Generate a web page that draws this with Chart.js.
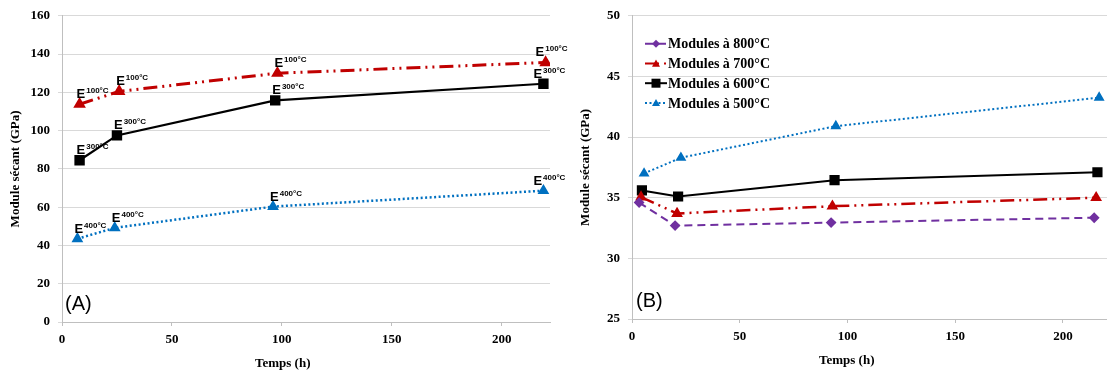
<!DOCTYPE html>
<html lang="fr">
<head>
<meta charset="UTF-8">
<title>Module sécant en fonction du temps</title>
<script src="https://cdn.jsdelivr.net/npm/chart.js"></script>
<style>
  body { margin: 0; background: #fff; width: 1107px; height: 374px; overflow: hidden; position: relative; }
  .panel { position: absolute; top: 0; height: 374px; }
  #panelA { left: 0; width: 575px; }
  #panelB { left: 565px; width: 551px; }
  .tag { position: absolute; font-family: "Liberation Sans", sans-serif; font-size: 20px; color: #000; }
  .xtitle { position: absolute; font-family: "Liberation Serif", serif; font-weight: bold; font-size: 13px; color: #000; }
</style>
</head>
<body>
<div id="panelB" class="panel"><canvas id="chartB"></canvas></div>
<div id="panelA" class="panel"><canvas id="chartA"></canvas></div>
<div class="tag" style="left:65px; top:292px;">(A)</div>
<div class="tag" style="left:636px; top:289px;">(B)</div>
<div class="xtitle" style="left:255px; top:355px;">Temps (h)</div>
<div class="xtitle" style="left:819px; top:352px;">Temps (h)</div>
<script>
// ---- data, panel A (E at 100 / 300 / 400 °C) ----
const tempsA100 = [8, 26, 98, 220];
const moduleA100 = [113.8, 120.5, 130, 135.6];
const tempsA300 = [8, 25, 97, 219];
const moduleA300 = [84.5, 97.5, 115.8, 124.5];
const tempsA400 = [7, 24, 96, 219];
const moduleA400 = [43.5, 49.2, 60.3, 68.6];
const sufA = ['100°C', '300°C', '400°C'];

// ---- data, panel B ----
const tempsB800 = [3.3, 20, 92.4, 214.5];
const moduleB800 = [34.6, 32.7, 32.95, 33.35];
const tempsB700 = [4.2, 20.9, 93, 215.4];
const moduleB700 = [35.05, 33.7, 34.3, 35.0];
const tempsB600 = [4.6, 21.4, 94, 216];
const moduleB600 = [35.6, 35.1, 36.45, 37.1];
const tempsB500 = [5.6, 22.7, 94.6, 216.8];
const moduleB500 = [37.0, 38.3, 40.9, 43.25];
const labelsB = ['Modules à 800°C', 'Modules à 700°C', 'Modules à 600°C', 'Modules à 500°C'];

const RED = '#c00000', BLUE = '#0070c0', PURPLE = '#7030a0', BLACK = '#000000';
const tickFont = { family: 'Liberation Serif', size: 13, weight: 'bold' };
const pairs = (xs, ys) => xs.map((x, i) => ({ x, y: ys[i] }));

function xScale(max, h) {
  return {
    type: 'linear', min: 0, max,
    ticks: { stepSize: 50, includeBounds: false, font: tickFont, color: '#000', padding: 6, maxRotation: 0 },
    grid: { drawOnChartArea: false, tickLength: 4, color: '#bfbfbf' },
    border: { color: '#bfbfbf' },
    afterFit: s => { s.height = h; }
  };
}
function yScale(min, max, step, w, tpad) {
  return {
    min, max,
    ticks: { stepSize: step, font: tickFont, color: '#000', padding: 8 },
    grid: { color: '#d9d9d9', tickLength: 4 },
    border: { color: '#bfbfbf' },
    title: { display: true, text: 'Module sécant (GPa)', font: tickFont, color: '#000', padding: { top: tpad, bottom: 0 } },
    afterFit: s => { s.width = w; }
  };
}

// E^xxx°C labels next to each point of panel A
const eLabels = {
  id: 'eLabels',
  afterDatasetsDraw(chart) {
    const ctx = chart.ctx;
    ctx.save();
    ctx.fillStyle = '#000';
    ctx.textBaseline = 'alphabetic';
    chart.data.datasets.forEach((ds, i) => {
      chart.getDatasetMeta(i).data.forEach((pt, j, arr) => {
        const x = pt.x + (j === arr.length - 1 ? -10 : -3);
        const y = pt.y - 6;
        ctx.font = 'bold 13px "Liberation Sans"';
        ctx.fillText('E', x, y);
        const w = ctx.measureText('E').width;
        ctx.font = 'bold 8px "Liberation Sans"';
        ctx.fillText(sufA[i], x + w + 1, y - 5);
      });
    });
    ctx.restore();
  }
};

function marker(ctx, style, x, y, r) {
  ctx.beginPath();
  if (style === 'triangle') {
    ctx.moveTo(x, y - r); ctx.lineTo(x + r, y + r * 0.8); ctx.lineTo(x - r, y + r * 0.8);
  } else if (style === 'rect') {
    ctx.rect(x - r, y - r, 2 * r, 2 * r);
  } else {
    ctx.moveTo(x, y - r); ctx.lineTo(x + r, y); ctx.lineTo(x, y + r); ctx.lineTo(x - r, y);
  }
  ctx.closePath();
  ctx.fill();
}

// legend drawn inside the plot of panel B
const innerLegend = {
  id: 'innerLegend',
  afterDraw(chart) {
    const ctx = chart.ctx;
    const a = chart.chartArea;
    const x0 = a.left + 13, y0 = a.top + 28;
    ctx.save();
    chart.data.datasets.forEach((ds, i) => {
      const y = y0 + i * 19.7;
      ctx.strokeStyle = ds.borderColor;
      ctx.lineWidth = 2;
      ctx.setLineDash(ds.borderDash || []);
      ctx.beginPath(); ctx.moveTo(x0, y); ctx.lineTo(x0 + 22, y); ctx.stroke();
      ctx.setLineDash([]);
      ctx.fillStyle = ds.borderColor;
      marker(ctx, ds.pointStyle, x0 + 11, y, ds.pointStyle === 'rect' ? 4.5 : 4);
      ctx.fillStyle = '#000';
      ctx.font = 'bold 14px "Liberation Serif"';
      ctx.textBaseline = 'middle';
      ctx.fillText(ds.label, x0 + 23, y + 1);
    });
    ctx.restore();
  }
};

new Chart(document.getElementById('chartA'), {
  type: 'scatter',
  data: {
    datasets: [
      { label: 'E 100°C', data: pairs(tempsA100, moduleA100), showLine: true, borderColor: RED, backgroundColor: RED,
        borderWidth: 3, borderDash: [14, 5, 2, 5, 2, 5], pointStyle: 'triangle', pointRadius: 4.3 },
      { label: 'E 300°C', data: pairs(tempsA300, moduleA300), showLine: true, borderColor: BLACK, backgroundColor: BLACK,
        borderWidth: 2.2, pointStyle: 'rect', pointRadius: 5.8 },
      { label: 'E 400°C', data: pairs(tempsA400, moduleA400), showLine: true, borderColor: BLUE, backgroundColor: BLUE,
        borderWidth: 2.5, borderDash: [2, 2.5], pointStyle: 'triangle', pointRadius: 4.3 }
    ]
  },
  options: {
    responsive: true, maintainAspectRatio: false, animation: false,
    layout: { padding: { top: 14, right: 25, left: 0, bottom: 0 } },
    plugins: { legend: { display: false }, tooltip: { enabled: false } },
    scales: { x: xScale(222, 52), y: yScale(0, 160, 20, 62, 8) }
  },
  plugins: [eLabels]
});

new Chart(document.getElementById('chartB'), {
  type: 'scatter',
  data: {
    datasets: [
      { label: labelsB[0], data: pairs(tempsB800, moduleB800), showLine: true, borderColor: PURPLE, backgroundColor: PURPLE,
        borderWidth: 2, borderDash: [8, 5], pointStyle: 'rectRot', pointRadius: 4 },
      { label: labelsB[1], data: pairs(tempsB700, moduleB700), showLine: true, borderColor: RED, backgroundColor: RED,
        borderWidth: 2.5, borderDash: [14, 5, 2, 5, 2, 5], pointStyle: 'triangle', pointRadius: 4.3 },
      { label: labelsB[2], data: pairs(tempsB600, moduleB600), showLine: true, borderColor: BLACK, backgroundColor: BLACK,
        borderWidth: 2, pointStyle: 'rect', pointRadius: 5.8 },
      { label: labelsB[3], data: pairs(tempsB500, moduleB500), showLine: true, borderColor: BLUE, backgroundColor: BLUE,
        borderWidth: 2, borderDash: [2, 2.5], pointStyle: 'triangle', pointRadius: 4.3 }
    ]
  },
  options: {
    responsive: true, maintainAspectRatio: false, animation: false,
    layout: { padding: { top: 15, right: 0, left: 0, bottom: 0 } },
    plugins: { legend: { display: false }, tooltip: { enabled: false } },
    scales: { x: xScale(221, 55), y: yScale(25, 50, 5, 67, 13) }
  },
  plugins: [innerLegend]
});
</script>
</body>
</html>
